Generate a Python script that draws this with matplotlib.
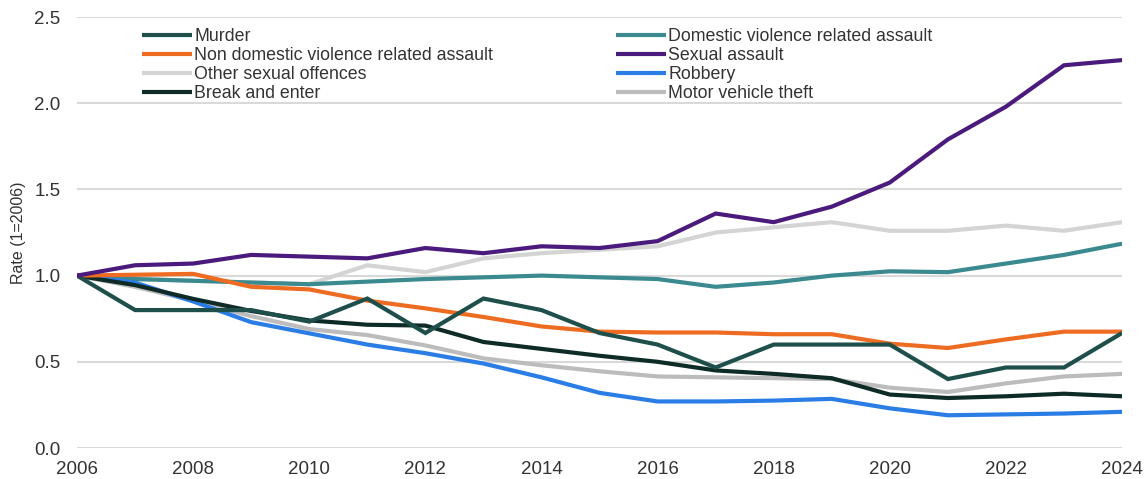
#!/usr/bin/env python3
"""Crime rates indexed to 2006, NSW offence categories."""
import matplotlib.pyplot as plt

years = list(range(2006, 2025))

murder = [1.0, 0.80, 0.80, 0.80, 0.733, 0.867, 0.667, 0.867, 0.80, 0.667,
          0.60, 0.467, 0.60, 0.60, 0.60, 0.40, 0.467, 0.467, 0.667]
dv_assault = [1.0, 0.98, 0.97, 0.96, 0.95, 0.965, 0.98, 0.99, 1.00, 0.99,
              0.98, 0.935, 0.96, 1.00, 1.025, 1.02, 1.07, 1.12, 1.185]
non_dv_assault = [1.0, 1.005, 1.01, 0.935, 0.92, 0.855, 0.81, 0.76, 0.705, 0.675,
                  0.67, 0.67, 0.66, 0.66, 0.605, 0.58, 0.63, 0.675, 0.675]
sexual_assault = [1.0, 1.06, 1.07, 1.12, 1.11, 1.10, 1.16, 1.13, 1.17, 1.16,
                  1.20, 1.36, 1.31, 1.40, 1.54, 1.79, 1.98, 2.22, 2.25]
other_sexual = [1.0, 0.98, 0.97, 0.96, 0.95, 1.06, 1.02, 1.10, 1.13, 1.15,
                1.17, 1.25, 1.28, 1.31, 1.26, 1.26, 1.29, 1.26, 1.31]
robbery = [1.0, 0.96, 0.85, 0.73, 0.665, 0.60, 0.55, 0.49, 0.41, 0.32,
           0.27, 0.27, 0.275, 0.285, 0.23, 0.19, 0.195, 0.20, 0.21]
break_enter = [1.0, 0.945, 0.865, 0.795, 0.74, 0.715, 0.71, 0.615, 0.575, 0.535,
               0.50, 0.45, 0.43, 0.405, 0.31, 0.29, 0.30, 0.315, 0.30]
vehicle_theft = [1.0, 0.935, 0.855, 0.765, 0.69, 0.655, 0.595, 0.52, 0.48, 0.445,
                 0.415, 0.41, 0.405, 0.40, 0.35, 0.325, 0.375, 0.415, 0.43]

series = [
    ("Murder", murder, "#1e4f4b"),
    ("Domestic violence related assault", dv_assault, "#3b8a90"),
    ("Non domestic violence related assault", non_dv_assault, "#ee6b22"),
    ("Sexual assault", sexual_assault, "#4a1a7c"),
    ("Other sexual offences", other_sexual, "#d4d4d4"),
    ("Robbery", robbery, "#2b7de6"),
    ("Break and enter", break_enter, "#0e2b27"),
    ("Motor vehicle theft", vehicle_theft, "#bcbcbc"),
]
draw_order = [4, 7, 1, 5, 6, 2, 0, 3]

plt.rcParams["font.family"] = ["Liberation Sans", "DejaVu Sans"]

fig = plt.figure(figsize=(11.48, 4.79), dpi=100)
ax = fig.add_axes([0.0671, 0.0647, 0.9103, 0.8998])

lines = {}
for z, i in enumerate(draw_order):
    name, vals, col = series[i]
    (ln,) = ax.plot(years, vals, color=col, lw=3.0, label=name, zorder=3 + z,
                    solid_capstyle="butt", solid_joinstyle="miter")
    lines[i] = ln

ax.set_xlim(2006, 2024)
ax.set_ylim(0, 2.5)
ax.set_xticks(range(2006, 2025, 2))
ax.set_yticks([0.0, 0.5, 1.0, 1.5, 2.0, 2.5])
ax.set_yticklabels([f"{v:.1f}" for v in [0.0, 0.5, 1.0, 1.5, 2.0, 2.5]])
ax.tick_params(length=0, labelsize=13.5, colors="#333333")
ax.tick_params(axis="x", pad=9.5)
ax.tick_params(axis="y", pad=12)
ax.grid(True, axis="y", color="#d9d9d9", lw=1.5, zorder=0)
for sp in ax.spines.values():
    sp.set_visible(False)
ax.set_ylabel("Rate (1=2006)", fontsize=11.5, color="#333333", labelpad=6)

# legend filled column by column: left column first, then right
order = [0, 2, 4, 6, 1, 3, 5, 7]
leg = ax.legend([lines[i] for i in order], [series[i][0] for i in order],
                ncol=2, loc="upper left", bbox_to_anchor=(0.0503, 1.004),
                frameon=False, fontsize=12.8, handlelength=2.8,
                handletextpad=0.15, labelspacing=0.12, columnspacing=6.9,
                borderaxespad=0.3)
for t in leg.get_texts():
    t.set_color("#333333")

fig.savefig("out.png", dpi=100)
